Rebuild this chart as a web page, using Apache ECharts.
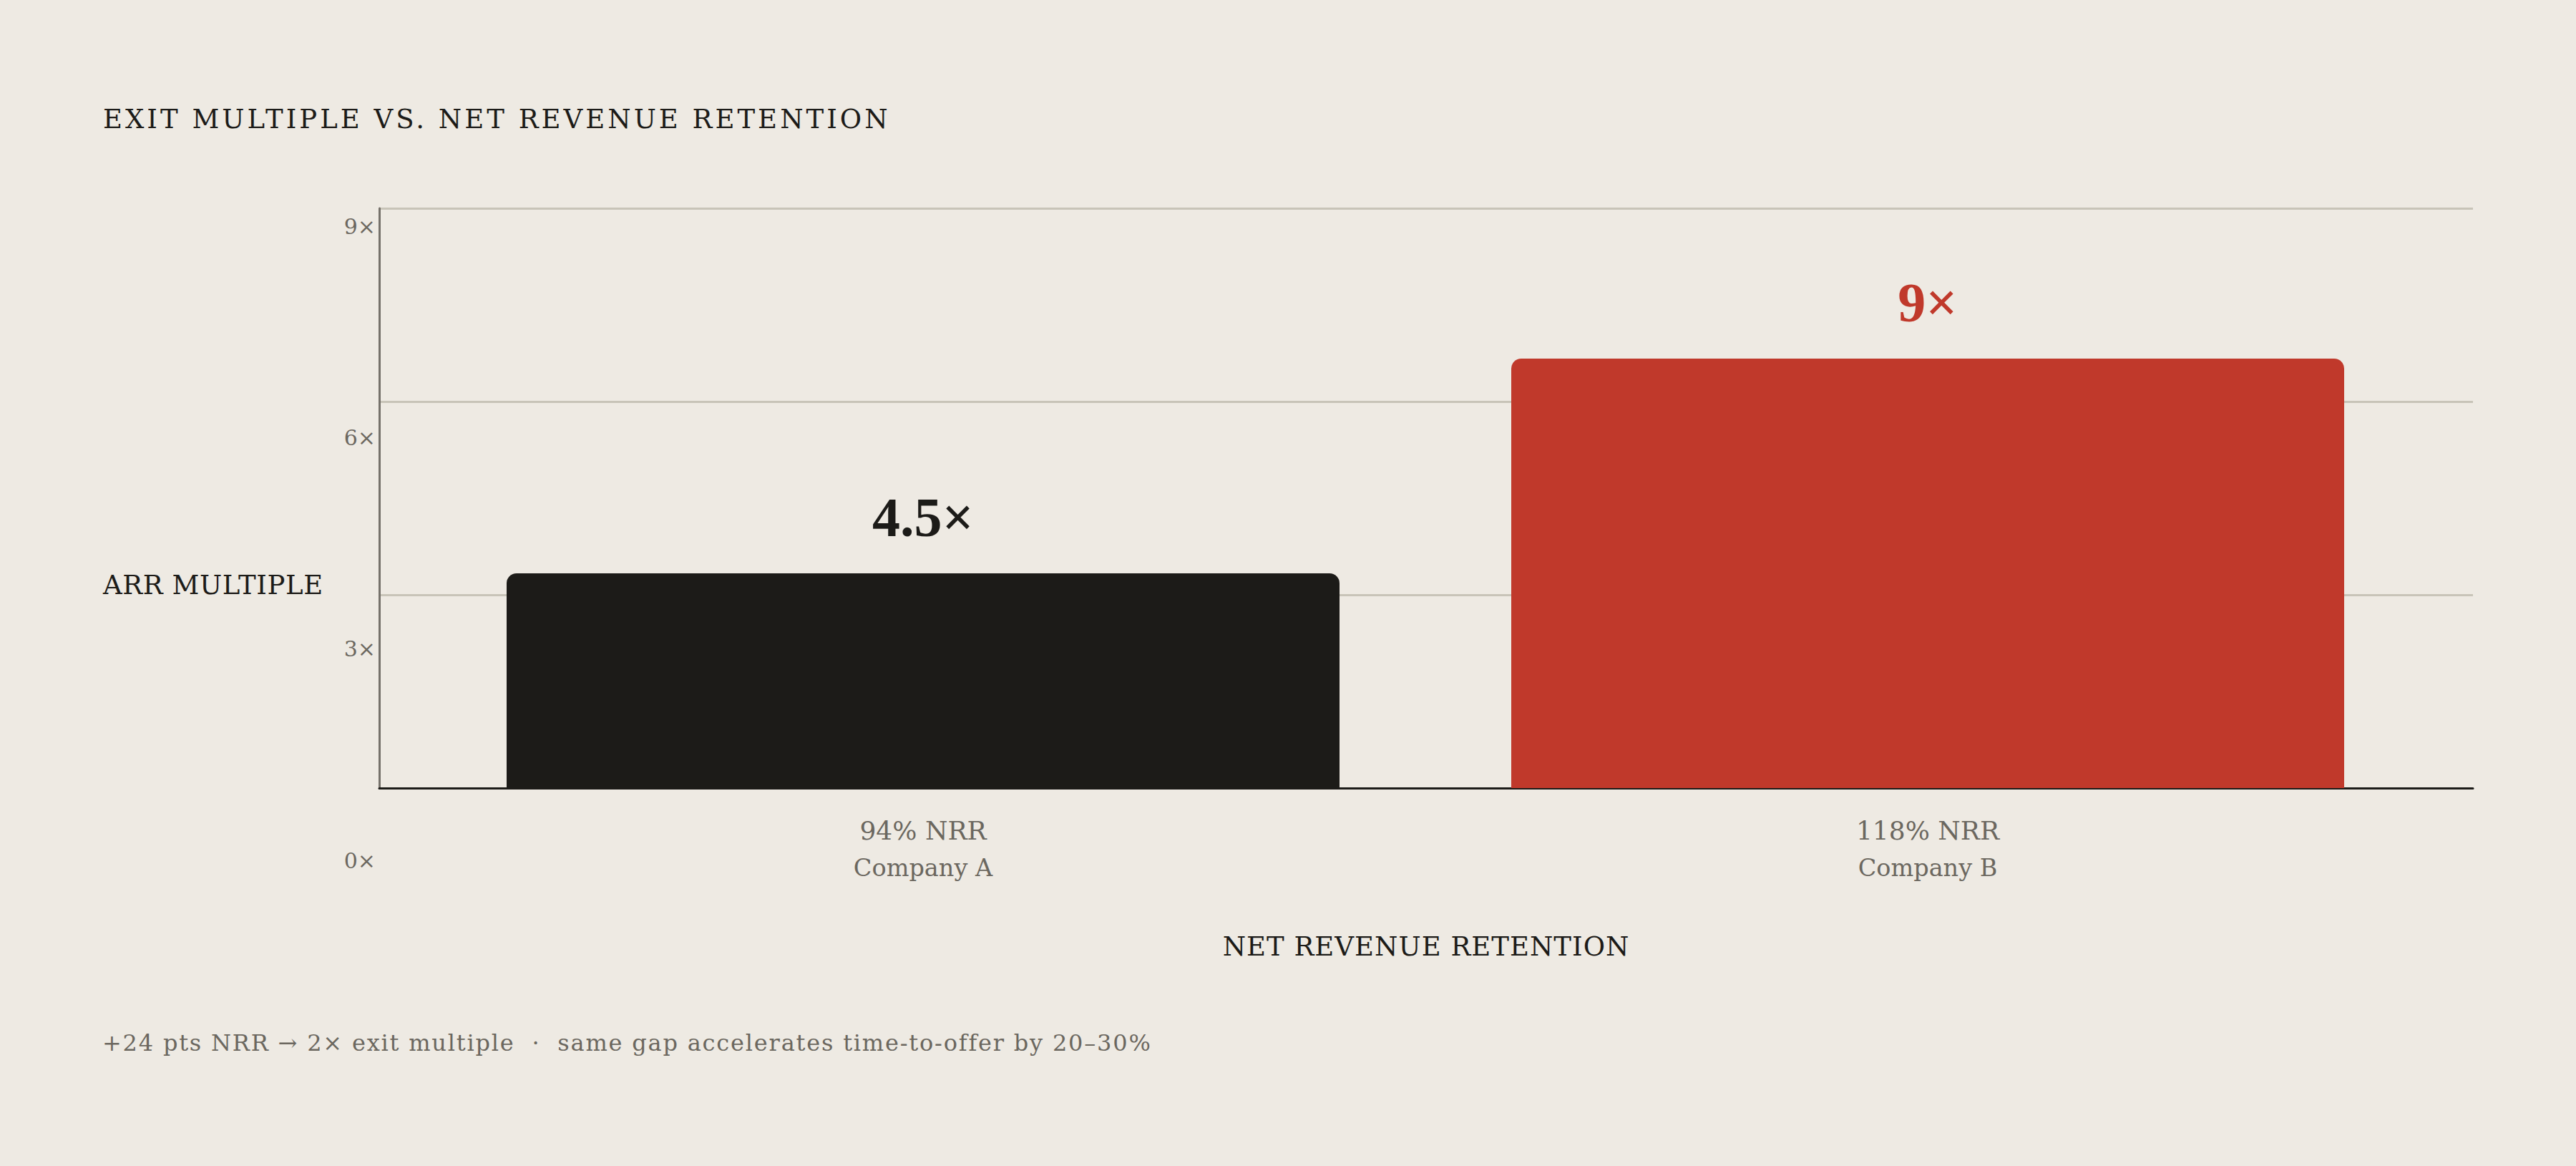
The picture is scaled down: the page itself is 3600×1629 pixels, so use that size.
<!DOCTYPE html>
<html>
<head>
<meta charset="utf-8">
<title>Exit multiple vs. NRR</title>
<script src="https://cdn.jsdelivr.net/npm/echarts@6/dist/echarts.min.js"></script>
<style>
  html, body { margin: 0; padding: 0; background: #eeeae3; }
  #chart { width: 3600px; height: 1629px; }
</style>
</head>
<body>
<div id="chart"></div>
<script>
// data
var categories = ['94% NRR', '118% NRR'];
var companies = ['Company A', 'Company B'];
var multiples = [4.5, 9];
var barColors = ['#1c1b18', '#c0392b'];
var tickLabels = ['0×', '3×', '6×', '9×'];

var titleText = 'EXIT MULTIPLE VS. NET REVENUE RETENTION';
var yName = 'ARR MULTIPLE';
var xName = 'NET REVENUE RETENTION';
var footText = '+24 pts NRR → 2× exit multiple  ·  same gap accelerates time-to-offer by 20–30%';

var ink = '#1c1b18', muted = '#6b675f', serif = 'DejaVu Serif';

var chart = echarts.init(document.getElementById('chart'), null, { renderer: 'svg' });

var option = {
  backgroundColor: '#eeeae3',
  animation: false,
  title: [
    { text: titleText, left: 144, top: 148, padding: 0,
      textStyle: { fontFamily: serif, fontSize: 37, lineHeight: 37, fontWeight: 'normal', color: ink } },
    { text: yName, left: 144, top: 799, padding: 0,
      textStyle: { fontFamily: serif, fontSize: 37, lineHeight: 37, fontWeight: 'normal', color: ink } },
    { text: footText, left: 143, top: 1441, padding: 0,
      textStyle: { fontFamily: serif, fontSize: 32, lineHeight: 32, fontWeight: 'normal', color: muted } }
  ],
  grid: [
    // frame: gridlines + axis lines
    { left: 530, right: 144, top: 291, height: 810 },
    // bars (narrower so the outer gaps match)
    { left: 588, right: 204, top: 291, height: 810 },
    // y tick labels, offset below the frame like the original
    { left: 530, right: 144, top: 316, height: 886 }
  ],
  xAxis: [
    { gridIndex: 0, type: 'category', data: categories,
      axisLine: { show: true, lineStyle: { color: ink, width: 3 } },
      axisTick: { show: false }, axisLabel: { show: false },
      name: xName, nameLocation: 'middle', nameGap: 203,
      nameTextStyle: { fontFamily: serif, fontSize: 37, color: ink } },
    { gridIndex: 1, type: 'category', data: categories,
      axisLine: { show: false }, axisTick: { show: false },
      axisLabel: {
        margin: 33,
        formatter: function (v, i) { return '{a|' + v + '}\n{b|' + companies[i] + '}'; },
        rich: {
          a: { fontFamily: serif, fontSize: 36, lineHeight: 52, color: muted },
          b: { fontFamily: serif, fontSize: 33.5, lineHeight: 52, color: muted }
        }
      } },
    { gridIndex: 2, type: 'value', show: false }
  ],
  yAxis: [
    { gridIndex: 0, type: 'value', min: 0, max: 12, interval: 4,
      axisLine: { show: true, lineStyle: { color: '#75716a', width: 3 } },
      axisTick: { show: false }, axisLabel: { show: false },
      splitLine: { lineStyle: { color: '#c8c4b8', width: 3 } } },
    // bar scale of the original runs a little past the top gridline
    { gridIndex: 1, type: 'value', min: 0, max: 12.15, show: false },
    { gridIndex: 2, type: 'value', min: 0, max: 9, interval: 3,
      axisLine: { show: false }, axisTick: { show: false }, splitLine: { show: false },
      axisLabel: { margin: 5, fontFamily: serif, fontSize: 30, color: muted,
        formatter: function (v) { return tickLabels[v / 3]; } } }
  ],
  series: [{
    type: 'bar',
    xAxisIndex: 1, yAxisIndex: 1,
    barWidth: 1164,
    data: multiples.map(function (v, i) {
      return {
        value: v,
        itemStyle: { color: barColors[i], borderRadius: [14, 14, 0, 0] },
        label: { color: barColors[i] }
      };
    }),
    label: {
      show: true, position: 'top', distance: 40,
      fontFamily: 'Liberation Serif', fontWeight: 'bold', fontSize: 78, lineHeight: 78,
      formatter: function (p) { return p.value + '×'; }
    }
  }]
};

chart.setOption(option);

// ECharts has no letter-spacing option; the SVG text nodes take it from CSS
var spacing = {};
spacing[titleText] = '4px';
spacing[yName] = '0.6px';
spacing[xName] = '1px';
spacing[footText] = '1.8px';
document.querySelectorAll('#chart svg text').forEach(function (t) {
  var s = spacing[t.textContent];
  if (s) t.style.letterSpacing = s;
});
</script>
</body>
</html>
